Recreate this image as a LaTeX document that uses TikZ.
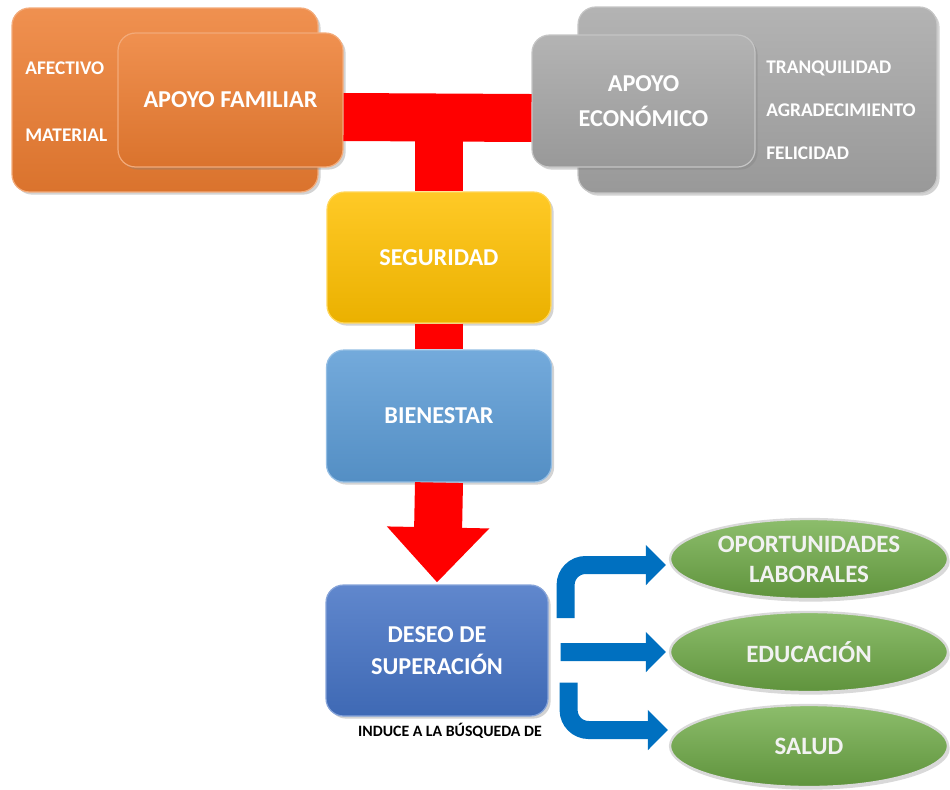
\documentclass[tikz,border=0pt]{standalone}
\usepackage{fontspec}
\setmainfont{Carlito}
\usetikzlibrary{shapes.geometric,arrows.meta,shadows}
\definecolor{famorange}{RGB}{237,125,49}
\definecolor{ecogray}{RGB}{166,166,166}
\definecolor{segyellow}{RGB}{255,192,0}
\definecolor{bienblue}{RGB}{91,155,213}
\definecolor{deseoblue}{RGB}{68,114,196}
\definecolor{arrowblue}{RGB}{0,112,192}
\definecolor{metagreen}{RGB}{112,173,71}

\begin{document}
\begin{tikzpicture}[x=0.02cm,y=-0.02cm,
    box/.style={rectangle,rounded corners=0.35cm,draw=white!35!#1,line width=0.7pt,
        top color=#1!85!white,bottom color=#1!92!black,text=white,align=center,
        font=\bfseries\fontsize{13.8}{18}\selectfont,
        drop shadow={opacity=0.35,shadow xshift=1.5pt,shadow yshift=-1.5pt}},
    meta/.style={ellipse,inner sep=0pt,draw=white!85!black,line width=1.3pt,
        top color=metagreen!80!white,bottom color=metagreen!85!black,text=white!95!black,align=center,
        font=\bfseries\fontsize{14.2}{17}\selectfont,
        minimum width=5.56cm,minimum height=1.6cm,
        drop shadow={opacity=0.3,shadow xshift=1pt,shadow yshift=-1.5pt}},
    smalltxt/.style={text=white,inner sep=0pt,anchor=west,font=\bfseries\fontsize{11}{13}\selectfont},
    redbar/.style={draw=red,line width=0.96cm},
    bluearr/.style={draw=arrowblue,line width=0.36cm,rounded corners=0.4cm,
        -{Triangle[width=0.78cm,length=0.4cm]}}]
    \useasboundingbox (0,0) rectangle (950,789);

    % Apoyo familiar
    \node[box=famorange,minimum width=6.12cm,minimum height=3.68cm] (famback) at (165,100) {};
    \node[smalltxt] (afectivo) at (25,68) {AFECTIVO};
    \node[smalltxt] (material) at (25,135) {MATERIAL};
    \node[box=famorange,minimum width=4.5cm,minimum height=2.68cm] (fam) at (230.5,100) {APOYO FAMILIAR};

    % Apoyo economico
    \node[box=ecogray,minimum width=7.18cm,minimum height=3.72cm] (ecoback) at (757.5,100) {};
    \node[smalltxt] (tranq) at (766,68) {TRANQUILIDAD};
    \node[smalltxt] (agrad) at (766,110) {AGRADECIMIENTO};
    \node[smalltxt] (felic) at (766,153) {FELICIDAD};
    \node[box=ecogray,minimum width=4.46cm,minimum height=2.64cm,
        font=\bfseries\fontsize{13.8}{19.5}\selectfont] (eco) at (643.5,101) {APOYO\\ECONÓMICO};

    % Red T
    \coordinate (tee) at (439,117);
    \draw[redbar] ([yshift=-0.34cm]fam.east) -- ([yshift=-0.34cm]eco.west);

    % Column
    \node[box=segyellow,minimum width=4.48cm,minimum height=2.62cm] (seg) at (439,257.5) {SEGURIDAD};
    \node[box=bienblue,minimum width=4.5cm,minimum height=2.64cm] (bien) at (439,416) {BIENESTAR};
    \node[box=deseoblue,minimum width=4.44cm,minimum height=2.62cm] (deseo) at (437,650.5) {DESEO DE\\SUPERACIÓN};
    \node[inner sep=0pt,font=\bfseries\fontsize{9}{11}\selectfont] (induce) at (450,731) {INDUCE A LA BÚSQUEDA DE};

    \draw[redbar] (tee) -- (seg.north);
    \draw[redbar] (seg.south) -- (bien.north);
    \draw[redbar,-{Triangle[width=1.98cm,length=1.1cm]},shorten >=0.04cm] (bien.south) -- (deseo.north);

    % Metas
    \node[meta] (opo) at (809,559) {OPORTUNIDADES\\LABORALES};
    \node[meta] (edu) at (809,652) {EDUCACIÓN};
    \node[meta,minimum height=1.64cm] (sal) at (809,746) {SALUD};

    % Blue arrows
    \draw[bluearr] ([shift={(17,-32.5)}]deseo.east) |- ([shift={(-3,6)}]opo.west);
    \draw[bluearr] ([shift={(12,1.5)}]deseo.east) -- ([shift={(-3,0)}]edu.west);
    \draw[bluearr] ([shift={(20,32)}]deseo.east) |- ([shift={(-1,-16)}]sal.west);
\end{tikzpicture}
\end{document}
